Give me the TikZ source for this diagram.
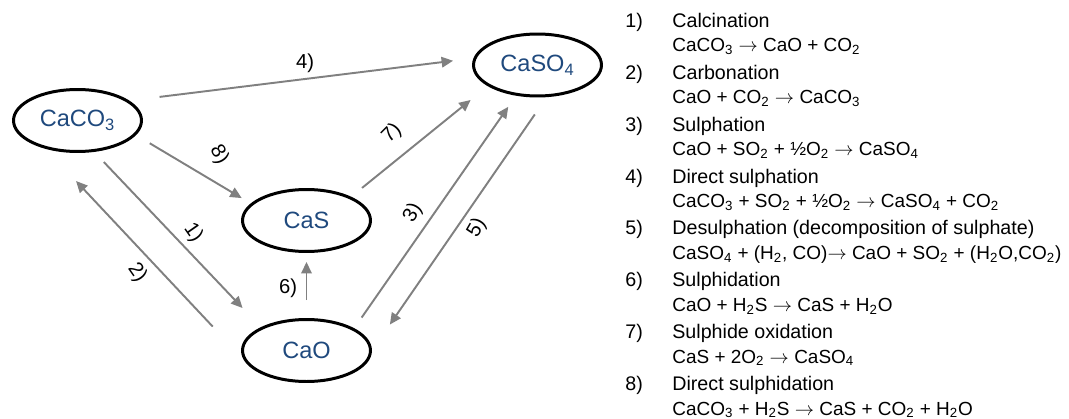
\documentclass[tikz,border=0pt]{standalone}
\usepackage{fontspec}
\setmainfont{Liberation Sans}
\usetikzlibrary{positioning,shapes.geometric,arrows.meta}

\definecolor{speciesblue}{RGB}{31,73,125}
\definecolor{arrowgray}{RGB}{128,128,128}
\newcommand{\dn}[1]{\textsubscript{#1}}
\newcommand{\yields}{$\rightarrow$}

\tikzset{
  species/.style={ellipse, draw=black, line width=1.7pt, minimum width=2.56cm,
    minimum height=1.24cm, inner sep=0pt, text=speciesblue,
    font=\fontsize{13.4}{16}\selectfont},
  react/.style={draw=arrowgray, line width=1.1pt,
    -{Triangle[length=2.3mm,width=2.1mm]}},
  num/.style={font=\fontsize{11.5}{13}\selectfont, inner sep=0pt},
  listtext/.style={anchor=base west, inner sep=0pt,
    font=\fontsize{11.2}{13}\selectfont},
  eqtext/.style={listtext, font=\fontsize{10.8}{13}\selectfont},
}

\begin{document}
\begin{tikzpicture}[x=0.02cm, y=-0.02cm]
\useasboundingbox (0,0) rectangle (1069,419);

% Species
\node[species] (caco3) at (77.5,120.5) {CaCO\dn3};
\node[species] (caso4) at (537.5,65) {CaSO\dn4};
\node[species] (cas) at (306.5,220.5) {CaS};
\node[species] (cao) at (306.5,350.5) {CaO};

% Reactions
\draw[react, shorten <=0.28cm, shorten >=0.53cm] (caco3.-62) -- (cao.153);
\draw[react, shorten <=0.90cm, shorten >=0.88cm] (cao.188) -- (caco3.222);
\draw[react, shorten <=0.26cm, shorten >=0.27cm] (cao.25) -- (caso4.-125);
\draw[react, shorten <=0.61cm, shorten >=0.41cm] (caco3.21) -- (caso4.174);
\draw[react, shorten <=0.42cm, shorten >=0.63cm] (caso4.-74) -- (cao.0);
\draw[react, shorten <=0.36cm, shorten >=0.18cm] (cao.north) -- (cas.south);
\draw[react, shorten <=0.28cm, shorten >=0.44cm] (cas.28) -- (caso4.-157);
\draw[react, shorten <=0.32cm, shorten >=0.21cm] (caco3.-14) -- (cas.163);

% Reaction numbers
\node[num, rotate=-55] (l1) at (193,233) {1)};
\node[num, rotate=-55] (l2) at (137,273) {2)};
\node[num, rotate=60] (l3) at (413,213) {3)};
\node[num] (l4) at (305,63) {4)};
\node[num, rotate=60] (l5) at (477,228) {5)};
\node[num] (l6) at (288,288) {6)};
\node[num, rotate=45] (l7) at (392,133) {7)};
\node[num, rotate=-60] (l8) at (219,155) {8)};

% Key
\foreach \i in {1,...,8}
  \node[listtext] (n\i) at (625,{27.3+51.9*(\i-1)}) {\i)};

\node[listtext] (t1) at (672,27.3) {Calcination};
\node[eqtext] (e1) at (672,51.7) {CaCO\dn3 \yields{} CaO + CO\dn2};
\node[listtext] (t2) at (672,79.2) {Carbonation};
\node[eqtext] (e2) at (672,103.6) {CaO + CO\dn2 \yields{} CaCO\dn3};
\node[listtext] (t3) at (672,131.1) {Sulphation};
\node[eqtext] (e3) at (672,155.5) {CaO + SO\dn2 + ½O\dn2 \yields{} CaSO\dn4};
\node[listtext] (t4) at (672,183.0) {Direct sulphation};
\node[eqtext] (e4) at (672,207.4) {CaCO\dn3 + SO\dn2 + ½O\dn2 \yields{} CaSO\dn4 + CO\dn2};
\node[listtext] (t5) at (672,234.9) {Desulphation (decomposition of sulphate)};
\node[eqtext] (e5) at (672,259.3) {CaSO\dn4 + (H\dn2, CO)\yields{} CaO + SO\dn2 + (H\dn2O,CO\dn2)};
\node[listtext] (t6) at (672,286.8) {Sulphidation};
\node[eqtext] (e6) at (672,311.2) {CaO + H\dn2S \yields{} CaS + H\dn2O};
\node[listtext] (t7) at (672,338.7) {Sulphide oxidation};
\node[eqtext] (e7) at (672,363.1) {CaS + 2O\dn2 \yields{} CaSO\dn4};
\node[listtext] (t8) at (672,390.6) {Direct sulphidation};
\node[eqtext] (e8) at (672,415.0) {CaCO\dn3 + H\dn2S \yields{} CaS + CO\dn2 + H\dn2O};

\end{tikzpicture}
\end{document}
